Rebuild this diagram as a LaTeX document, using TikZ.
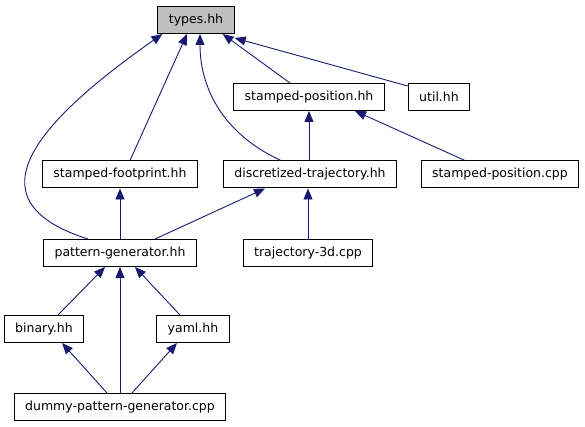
\documentclass[tikz,border=0pt]{standalone}
\usepackage{fontspec}
\setmainfont{DejaVu Sans}
\usetikzlibrary{arrows.meta, positioning}
\definecolor{edgeblue}{HTML}{191970}

\begin{document}
\begin{tikzpicture}[x=1pt, y=-1pt,
  file/.style={draw, line width=1pt, minimum height=27pt, inner xsep=11pt,
    font=\fontsize{12.5}{14}\selectfont},
  inc/.style={edgeblue, line width=0.9pt, -{Triangle[length=11pt,width=9pt]}}]
  \useasboundingbox (0,0) rectangle (585,427);

  \node[file, fill=black!25] (types) at (196,20) {types.hh};
  \node[file] (spos) at (309,97) {stamped-position.hh};
  \node[file] (util) at (439,97) {util.hh};
  \node[file] (sfoot) at (120,174.5) {stamped-footprint.hh};
  \node[file] (dtraj) at (310,174.5) {discretized-trajectory.hh};
  \node[file] (sposcpp) at (500,174.5) {stamped-position.cpp};
  \node[file] (pgen) at (120,253) {pattern-generator.hh};
  \node[file] (traj3d) at (308,253) {trajectory-3d.cpp};
  \node[file] (binary) at (44,329) {binary.hh};
  \node[file] (yaml) at (193,329) {yaml.hh};
  \node[file] (dummy) at (120,407) {dummy-pattern-generator.cpp};

  % includes of types.hh
  \draw[inc] ([xshift=-32pt]pgen.north) .. controls (-35,200) and (40,120) .. ([xshift=5pt]types.south west);
  \draw[inc] ([xshift=10pt]sfoot.north) -- ([xshift=-9pt]types.south);
  \draw[inc] ([xshift=-29pt]dtraj.north) .. controls (225,135) and (200,90) .. ([xshift=4pt]types.south);
  \draw[inc] ([xshift=-19pt]spos.north) -- ([xshift=-12pt]types.south east);
  \draw[inc] (util.north west) ++(0,3) -- ([yshift=-4pt]types.south east);

  \draw[inc] (dtraj.north -| spos) -- (spos.south);
  \draw[inc] ([xshift=-35pt]sposcpp.north) -- ([xshift=46pt]spos.south);
  \draw[inc] (pgen.north) -- (sfoot.south);
  \draw[inc] ([xshift=35pt]pgen.north) -- ([xshift=-45pt]dtraj.south);
  \draw[inc] (traj3d.north) -- (traj3d.north |- dtraj.south);

  \draw[inc] ([xshift=14pt]binary.north) -- ([xshift=-15pt]pgen.south);
  \draw[inc] ([xshift=-13pt]yaml.north) -- ([xshift=15pt]pgen.south);
  \draw[inc] (dummy.north) -- (pgen.south);
  \draw[inc] ([xshift=-13pt]dummy.north) -- ([xshift=18pt]binary.south);
  \draw[inc] ([xshift=12pt]dummy.north) -- ([xshift=-16pt]yaml.south);
\end{tikzpicture}
\end{document}
